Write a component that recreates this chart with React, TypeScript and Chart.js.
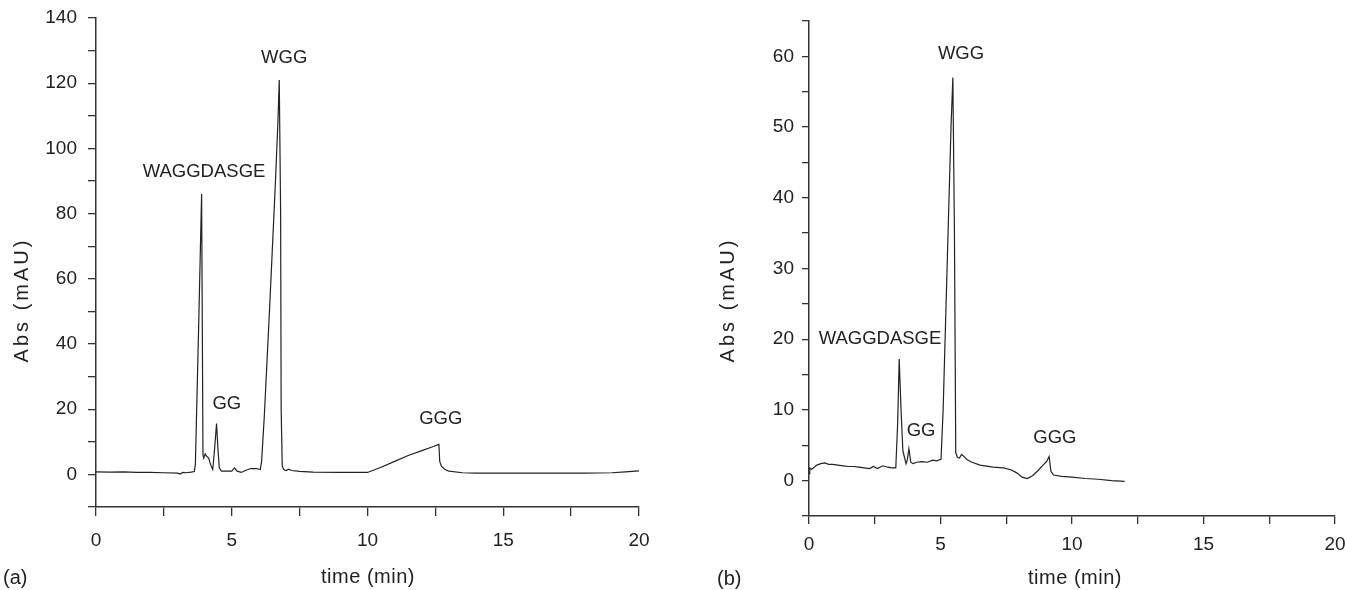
import { useEffect, useRef } from 'react';
import { Chart, registerables } from 'chart.js';

Chart.register(...registerables);

// ---- Panel (a) chromatogram ----
const timeA = [
  0, 0.5, 1.0, 1.5, 2.0, 2.5, 3.0, 3.1, 3.2, 3.3, 3.5, 3.62, 3.66, 3.78, 3.89, 3.94, 3.97,
  4.02, 4.08, 4.15, 4.22, 4.3, 4.37, 4.44, 4.49, 4.54, 4.62, 4.8, 5.0, 5.1, 5.2, 5.35, 5.5,
  5.7, 5.9, 6.05, 6.1, 6.2, 6.4, 6.6, 6.7, 6.75, 6.8, 6.82, 6.86, 6.92, 7.0, 7.1, 7.2, 7.5, 8.0,
  9.0, 10.0, 10.5, 11.0, 11.5, 12.0, 12.4, 12.63, 12.66, 12.72, 12.85, 13.0, 13.5, 14.0, 15.0,
  16.0, 17.0, 18.0, 19.0, 19.5, 20.0,
];
const absA = [
  0.8, 0.7, 0.75, 0.6, 0.6, 0.5, 0.4, 0.1, 0.6, 0.5, 0.7, 0.9, 3, 45, 86, 6, 5,
  6.3, 5.5, 5, 3, 1.5, 8, 15.6, 8, 2, 1, 1, 1, 2, 1, 0.6, 1.2,
  1.8, 1.8, 1.5, 4, 18, 52, 88, 108, 121, 80, 20, 2.5, 1.5, 1.2, 1.6, 1.2, 0.9, 0.7,
  0.6, 0.6, 2.2, 4, 5.8, 7.3, 8.5, 9.2, 4, 2.5, 1.5, 1.0, 0.5, 0.4, 0.4,
  0.4, 0.4, 0.4, 0.5, 0.8, 1.1,
];

// ---- Panel (b) chromatogram ----
const timeB = [
  0, 0.03, 0.1, 0.2, 0.3, 0.45, 0.6, 0.75, 0.9, 1.1, 1.3, 1.5, 1.7, 1.9, 2.1, 2.3, 2.45, 2.6,
  2.8, 3.0, 3.15, 3.3, 3.37, 3.43, 3.5, 3.57, 3.69, 3.74, 3.8, 3.87, 3.95, 4.1, 4.3, 4.5, 4.7,
  4.85, 5.02, 5.1, 5.25, 5.4, 5.47, 5.53, 5.58, 5.64, 5.72, 5.8, 5.9, 6.0, 6.2, 6.5, 7.0, 7.4,
  7.7, 7.9, 8.1, 8.3, 8.5, 8.7, 8.9, 9.05, 9.13, 9.2, 9.3, 9.6, 10.0, 10.5, 11.0, 11.5, 12.0,
];
const absB = [
  1.0, 1.8, 1.6, 1.9, 2.2, 2.4, 2.5, 2.3, 2.3, 2.2, 2.1, 2.0, 2.0, 1.9, 1.8, 1.7, 2.0, 1.7,
  2.1, 1.9, 1.8, 1.8, 8, 17.2, 10, 4.2, 2.4, 3, 4.5, 2.6, 2.4, 2.6, 2.7, 2.6, 2.9,
  2.8, 3.0, 10, 30, 50, 57, 35, 4.0, 3.3, 3.2, 3.7, 3.4, 3.0, 2.6, 2.2, 1.9, 1.8,
  1.5, 1.1, 0.5, 0.3, 0.7, 1.4, 2.2, 2.8, 3.4, 1.3, 0.8, 0.6, 0.5, 0.3, 0.2, 0.0, -0.1,
];

// ---- Peak annotations ----
const peakNames = ['WAGGDASGE', 'GG', 'WGG', 'GGG'];
const peakLabelTimeA = [3.98, 4.82, 6.93, 12.7];
const peakLabelAbsA = [92.8, 21.7, 127.7, 17];
const peakLabelTimeB = [2.7, 4.26, 5.78, 9.35];
const peakLabelAbsB = [20.1, 7.1, 60.3, 6.1];

// ---- Tick labels ----
const xTickLabels = [0, 5, 10, 15, 20];
const yTickLabelsA = [0, 20, 40, 60, 80, 100, 120, 140];
const yTickLabelsB = [0, 10, 20, 30, 40, 50, 60];

const FONT = '"Liberation Sans", Arial, Helvetica, sans-serif';
const INK = '#222';

type PanelCfg = {
  time: number[];
  abs: number[];
  labelT: number[];
  labelA: number[];
  yMin: number;
  yMax: number;
  yStep: number;
  yLabels: number[];
  width: number;
  height: number;
  yAxisWidth: number;
  xAxisHeight: number;
  padTop: number;
  padRight: number;
  yTick: number;
  yPad: number;
  xTick: number;
  xPad: number;
  panel: string;
  panelX: number;
  panelY: number;
  xTitleX: number;
  xTitleY: number;
  yTitleX: number;
  yTitleY: number;
};

function makeTextPlugin(cfg: PanelCfg) {
  return {
    id: 'panelTexts',
    afterDraw(chart: any) {
      const { ctx } = chart;
      const xs = chart.scales.x;
      const ys = chart.scales.y;
      ctx.save();
      ctx.fillStyle = INK;
      ctx.font = `18.5px ${FONT}`;
      ctx.textAlign = 'center';
      ctx.textBaseline = 'middle';
      peakNames.forEach((n, i) => {
        ctx.fillText(n, xs.getPixelForValue(cfg.labelT[i]), ys.getPixelForValue(cfg.labelA[i]));
      });
      ctx.font = `20px ${FONT}`;
      (ctx as any).letterSpacing = '0.5px';
      ctx.fillText('time (min)', cfg.xTitleX, cfg.xTitleY);
      (ctx as any).letterSpacing = '0px';
      ctx.textAlign = 'left';
      ctx.fillText(cfg.panel, cfg.panelX, cfg.panelY);
      ctx.save();
      ctx.translate(cfg.yTitleX, cfg.yTitleY);
      ctx.rotate(-Math.PI / 2);
      ctx.textAlign = 'center';
      (ctx as any).letterSpacing = '3px';
      ctx.fillText('Abs (mAU)', 0, 0);
      ctx.restore();
      ctx.restore();
    },
  };
}

function Panel({ cfg, left }: { cfg: PanelCfg; left: number }) {
  const ref = useRef<HTMLCanvasElement | null>(null);
  useEffect(() => {
    if (!ref.current) return;
    const data = cfg.time.map((t, i) => ({ x: t, y: cfg.abs[i] }));
    const chart = new Chart(ref.current, {
      type: 'line',
      data: {
        datasets: [
          {
            data,
            borderColor: INK,
            borderWidth: 1.2,
            pointRadius: 0,
            tension: 0,
            fill: false,
          },
        ],
      },
      options: {
        responsive: false,
        animation: false,
        devicePixelRatio: 1,
        layout: { padding: { top: cfg.padTop, right: cfg.padRight, left: 0, bottom: 0 } },
        plugins: { legend: { display: false }, tooltip: { enabled: false } },
        scales: {
          x: {
            type: 'linear',
            min: 0,
            max: 20,
            afterFit(scale: any) {
              scale.height = cfg.xAxisHeight;
              scale.paddingLeft = 0;
              scale.paddingRight = 0;
            },
            ticks: {
              stepSize: 2.5,
              autoSkip: false,
              maxRotation: 0,
              padding: cfg.xPad,
              color: INK,
              font: { family: FONT, size: 19 },
              callback: (v: any) => (xTickLabels.includes(Number(v)) ? String(v) : ''),
            },
            grid: { drawOnChartArea: false, drawTicks: true, tickLength: cfg.xTick, color: '#333', lineWidth: 1.3 },
            border: { display: true, color: '#333', width: 1.5 },
          },
          y: {
            type: 'linear',
            min: cfg.yMin,
            max: cfg.yMax,
            afterFit(scale: any) {
              scale.width = cfg.yAxisWidth;
              scale.paddingTop = 0;
              scale.paddingBottom = 0;
            },
            ticks: {
              stepSize: cfg.yStep,
              autoSkip: false,
              padding: cfg.yPad,
              color: INK,
              font: { family: FONT, size: 19 },
              callback: (v: any) => (cfg.yLabels.includes(Number(v)) ? String(v) : ''),
            },
            grid: { drawOnChartArea: false, drawTicks: true, tickLength: cfg.yTick, color: '#333', lineWidth: 1.3 },
            border: { display: true, color: '#333', width: 1.5 },
          },
        },
      },
      plugins: [makeTextPlugin(cfg)],
    } as any);
    return () => chart.destroy();
  }, [cfg]);
  return (
    <canvas
      ref={ref}
      width={cfg.width}
      height={cfg.height}
      style={{ position: 'absolute', left, top: 0, width: cfg.width, height: cfg.height, display: 'block' }}
    />
  );
}

const cfgA: PanelCfg = {
  time: timeA,
  abs: absA,
  labelT: peakLabelTimeA,
  labelA: peakLabelAbsA,
  yMin: -10,
  yMax: 140,
  yStep: 10,
  yLabels: yTickLabelsA,
  width: 672,
  height: 590,
  yAxisWidth: 96,
  xAxisHeight: 83,
  padTop: 18,
  padRight: 33,
  yTick: 8,
  yPad: 11,
  xTick: 9,
  xPad: 13,
  panel: '(a)',
  panelX: 3,
  panelY: 578,
  xTitleX: 368,
  xTitleY: 577,
  yTitleX: 22,
  yTitleY: 300,
};

const cfgB: PanelCfg = {
  time: timeB,
  abs: absB,
  labelT: peakLabelTimeB,
  labelA: peakLabelAbsB,
  yMin: -5,
  yMax: 65,
  yStep: 5,
  yLabels: yTickLabelsB,
  width: 673,
  height: 590,
  yAxisWidth: 137,
  xAxisHeight: 74,
  padTop: 21,
  padRight: 10,
  yTick: 7,
  yPad: 8,
  xTick: 8,
  xPad: 9,
  panel: '(b)',
  panelX: 45,
  panelY: 579,
  xTitleX: 403,
  xTitleY: 578,
  yTitleX: 56,
  yTitleY: 300,
};

export default function App() {
  return (
    <div style={{ position: 'absolute', left: 0, top: 0, width: 1345, height: 590, background: '#fff' }}>
      <Panel cfg={cfgA} left={0} />
      <Panel cfg={cfgB} left={672} />
    </div>
  );
}
